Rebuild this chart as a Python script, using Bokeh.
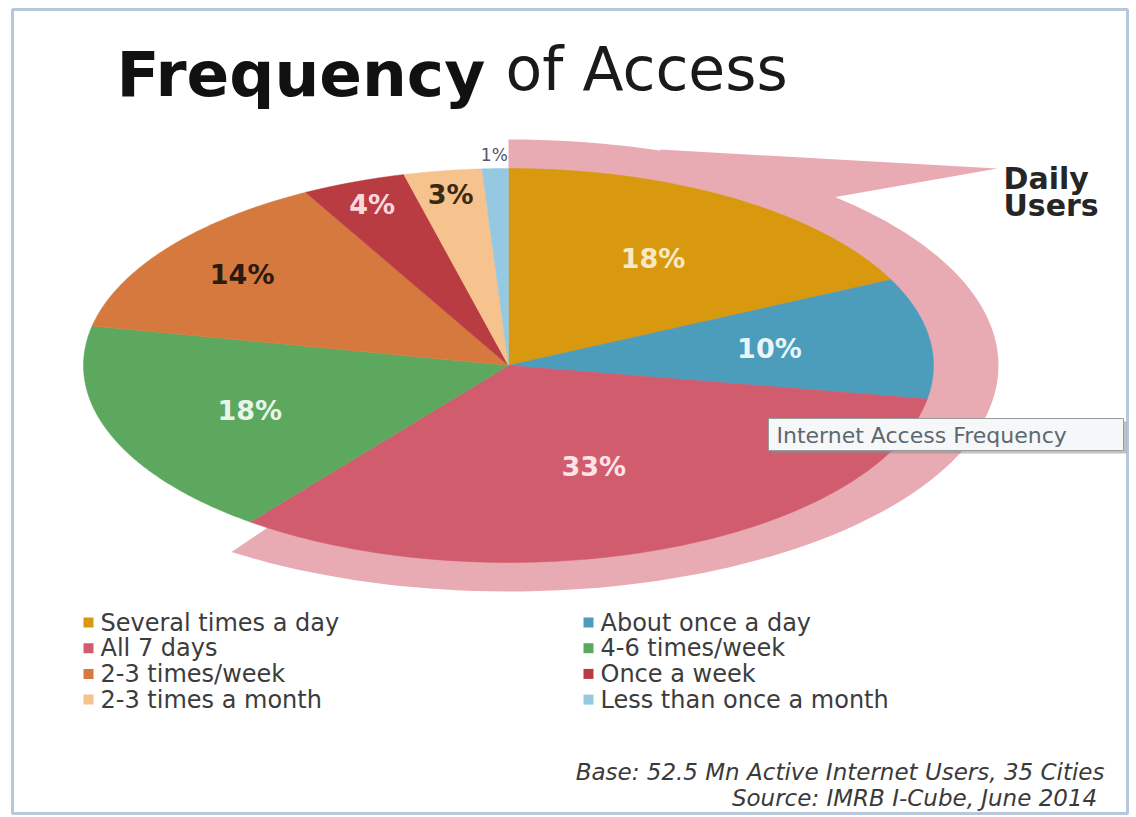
import numpy as np
from bokeh.plotting import figure
from bokeh.models import Range1d, ColumnDataSource
from bokeh.embed import file_html
from bokeh.resources import INLINE
from bokeh.core.properties import value

# ---------------- data ----------------
categories = ["Several times a day", "About once a day", "All 7 days", "4-6 times/week",
              "2-3 times/week", "Once a week", "2-3 times a month", "Less than once a month"]
shares = [18, 10, 33, 18, 14, 4, 3, 1]
share_labels = ["18%", "10%", "33%", "18%", "14%", "4%", "3%", "1%"]
daily_categories = ["Several times a day", "About once a day", "All 7 days"]

title_bold = "Frequency"
title_rest = "of Access"
callout_text = ["Daily", "Users"]
tooltip_text = "Internet Access Frequency"
notes = ["Base: 52.5 Mn Active Internet Users, 35 Cities", "Source: IMRB I-Cube, June  2014"]

# ---------------- styles ----------------
colors = ["#D8990F", "#4C9DBB", "#D15C6E", "#5CA85E", "#D5793F", "#BA3C43", "#F6C38E", "#94C9E1"]
label_colors = ["#F7E9C6", "#EAF5FA", "#FBE3E7", "#EAF5EA", "#2B1A10", "#F8DADC", "#3A2A12", "#55556A"]
label_frac = [0.64, 0.62, 0.55, 0.65, 0.78, 0.88, 0.88, 1.07]
band_color = "#E9ABB3"
FONT = "DejaVu Sans"

W, H = 1136, 817
# layout geometry (screen-like coordinates)
cx, cy = 508.0, 365.0
rx, ry = 425.0, 197.0
rxo, ryo = 490.0, 226.0

p = figure(width=W, height=H, x_range=Range1d(0, W), y_range=Range1d(H, 0),
           output_backend="svg", toolbar_location=None, min_border=0,
           x_axis_location=None, y_axis_location=None)
p.grid.visible = False
p.outline_line_color = None
p.background_fill_color = "white"
p.border_fill_color = "white"

# frame lines of the picture
p.quad(left=[12], right=[1127], top=[9], bottom=[813], fill_color=None,
       line_color="#B7C8DA", line_width=3)


def arc(a0, a1, ex, ey, n=120):
    t = np.linspace(a0, a1, n)
    return cx + ex * np.sin(t), cy - ey * np.cos(t)


vals = np.array(shares, dtype=float)
cum = np.concatenate([[0.0], np.cumsum(vals)]) / vals.sum() * 2 * np.pi
starts, ends = cum[:-1], cum[1:]

# daily-users band behind the pie
n_daily = len(daily_categories)
bx, by = arc(0.0, ends[n_daily - 1] - np.radians(3), rxo, ryo)
p.patch(np.concatenate([[cx], bx, [cx]]), np.concatenate([[cy], by, [cy]]),
        fill_color=band_color, line_color=None)

# pointer toward "Daily Users"
px1, py1 = arc(np.radians(18), np.radians(18), rxo, ryo, 1)
px2, py2 = arc(np.radians(41), np.radians(41), rxo, ryo, 1)
px3, py3 = arc(np.radians(30), np.radians(30), rx * 0.9, ry * 0.9, 1)
p.patch([px1[0], 997, px2[0], px3[0]], [py1[0] - 1, 168, py2[0] + 3, py3[0]],
        fill_color=band_color, line_color=None)

# pie slices
xs, ys = [], []
for a0, a1 in zip(starts, ends):
    ax, ay = arc(a0, a1, rx, ry)
    xs.append(np.concatenate([[cx], ax, [cx]]))
    ys.append(np.concatenate([[cy], ay, [cy]]))
src = ColumnDataSource(dict(xs=xs, ys=ys, color=colors, cat=categories))
p.patches("xs", "ys", source=src, fill_color="color", line_color="color", line_width=0.5)

# slice labels
mid = (starts + ends) / 2
lx = cx + rx * np.array(label_frac) * np.sin(mid)
ly = cy - ry * np.array(label_frac) * np.cos(mid)
lsrc = ColumnDataSource(dict(x=lx[:-1], y=ly[:-1], t=share_labels[:-1], c=label_colors[:-1]))
p.text("x", "y", text="t", source=lsrc, text_color="c", text_font=value(FONT),
       text_font_size="27px", text_font_style="bold", text_align="center", text_baseline="middle")
p.text([lx[-1]], [ly[-1]], text=[share_labels[-1]], text_color=label_colors[-1],
       text_font=value(FONT), text_font_size="17px", text_align="center", text_baseline="middle")

# title
p.text([116], [74], text=[title_bold], text_font=value(FONT), text_font_size="63px",
       text_font_style="bold", text_color="#111111", text_baseline="alphabetic")
p.text([505], [68], text=[title_rest], text_font=value(FONT), text_font_size="60px",
       text_color="#1a1a1a", text_baseline="alphabetic")

# callout text
p.text([1003, 1003], [178, 205], text=callout_text, text_font=value(FONT), text_font_size="30px",
       text_font_style="bold", text_color="#262626", text_baseline="alphabetic")

# tooltip box
p.quad(left=[771], right=[1126], top=[421], bottom=[453], fill_color="#8c8c8c",
       fill_alpha=0.55, line_color=None)
p.quad(left=[768], right=[1123], top=[418], bottom=[450], fill_color="#F6F7F8",
       line_color="#9A9A9A", line_width=1)
p.text([776], [435], text=[tooltip_text], text_font=value(FONT), text_font_size="22px",
       text_color="#5D6870", text_baseline="middle")

# legend
idx = np.arange(len(categories))
col = idx % 2
row = idx // 2
mx = 88 + col * 500
my = 622 + row * 25.7
p.rect(mx, my, width=10, height=10, fill_color=colors, line_color=None)
p.text(mx + 12, my, text=categories, text_font=value(FONT), text_font_size="24px",
       text_color="#3C3C3C", text_baseline="middle")

# notes
p.text([1104, 1104], [771, 797], text=notes, text_font=value(FONT), text_font_size="23px",
       text_font_style="italic", text_color="#3A3A3A", text_align="right", text_baseline="middle")

open("out.html", "w").write(file_html(p, INLINE))
